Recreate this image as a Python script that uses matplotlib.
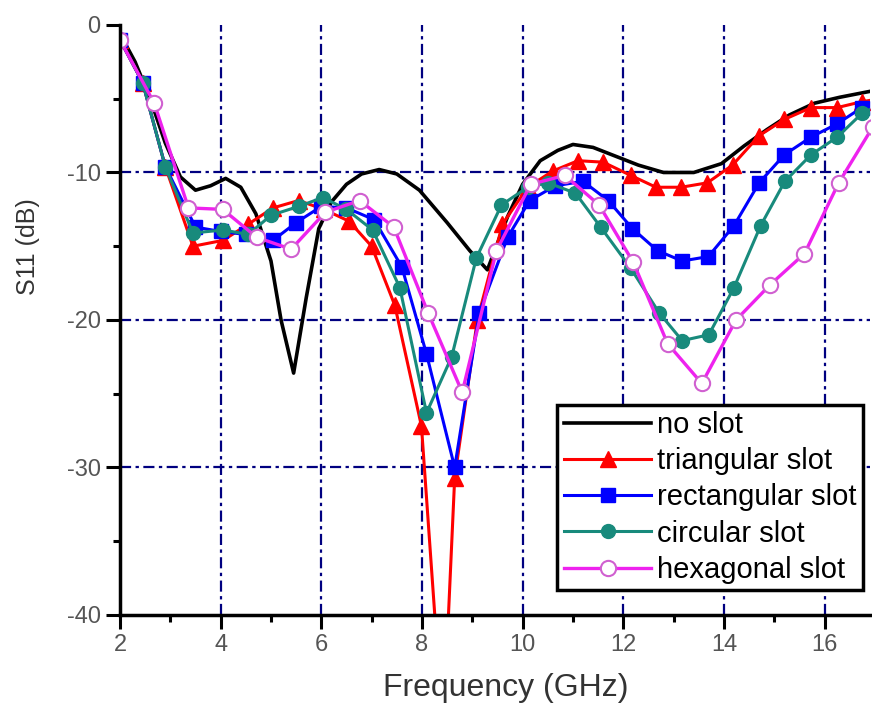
#!/usr/bin/env python3

import matplotlib
matplotlib.use('Agg')
import matplotlib.pyplot as plt

plt.rcParams['font.family'] = ['Liberation Sans', 'DejaVu Sans']
plt.rcParams['axes.unicode_minus'] = False

# no slot (plain line)
f_none = [2.0, 2.3, 2.6, 2.9, 3.2, 3.5, 3.8, 4.1, 4.4, 4.7, 5.0, 5.2, 5.45, 5.7, 5.95,
          6.2, 6.5, 6.8, 7.15, 7.5, 7.95, 8.5, 8.95, 9.3, 9.7, 10.0, 10.35, 10.7, 11.0,
          11.4, 11.85, 12.3, 12.8, 13.4, 13.95, 14.4, 14.85, 15.3, 15.8, 16.3, 16.9]
s_none = [-0.6, -2.5, -5.0, -8.0, -10.3, -11.2, -10.9, -10.4, -11.0, -12.8, -16.0, -20.0, -23.6, -18.5, -13.8,
          -12.0, -10.8, -10.1, -9.8, -10.1, -11.2, -13.4, -15.3, -16.6, -13.0, -10.8, -9.2, -8.5, -8.1,
          -8.3, -8.9, -9.5, -10.0, -10.0, -9.4, -8.2, -7.1, -6.1, -5.3, -4.9, -4.5]

# triangular slot
f_tri = [2.0, 2.45, 2.9, 3.45, 4.05, 4.55, 5.04, 5.55, 6.05, 6.55, 7.0, 7.46, 7.99, 8.42, 8.65,
         9.1, 9.6, 10.1, 10.6, 11.1, 11.6, 12.15, 12.65, 13.15, 13.67, 14.17, 14.7, 15.2, 15.73,
         16.25, 16.74, 17.1]
s_tri = [-1.0, -3.9, -9.6, -15.0, -14.6, -13.5, -12.4, -11.9, -12.5, -13.3, -15.0, -19.0, -27.2, -48.0, -30.7,
         -20.0, -13.5, -11.0, -9.9, -9.2, -9.3, -10.2, -11.0, -11.0, -10.7, -9.5, -7.5, -6.4, -5.6,
         -5.6, -5.2, -5.0]

# rectangular slot
f_rect = [2.0, 2.45, 2.9, 3.5, 4.0, 4.5, 5.04, 5.5, 6.0, 6.5, 7.05, 7.6, 8.09, 8.65, 9.14,
          9.7, 10.14, 10.65, 11.2, 11.7, 12.18, 12.68, 13.17, 13.69, 14.2, 14.7, 15.2, 15.73,
          16.25, 16.74, 17.1]
s_rect = [-1.0, -3.9, -9.6, -13.7, -14.0, -14.2, -14.6, -13.4, -12.3, -12.4, -13.2, -16.4, -22.3, -30.0, -19.5,
          -14.4, -11.9, -10.9, -10.6, -11.9, -13.8, -15.3, -16.0, -15.7, -13.6, -10.7, -8.8, -7.6,
          -6.7, -5.6, -5.2]

# circular slot
f_circ = [2.0, 2.45, 2.9, 3.45, 4.05, 4.55, 5.0, 5.55, 6.03, 6.5, 7.02, 7.56, 8.09, 8.59, 9.08,
          9.58, 10.1, 10.5, 11.05, 11.55, 12.15, 12.71, 13.17, 13.7, 14.2, 14.73, 15.21, 15.73,
          16.25, 16.74, 17.1]
s_circ = [-1.0, -3.9, -9.6, -14.1, -13.9, -14.2, -12.9, -12.3, -11.7, -12.5, -13.9, -17.8, -26.3, -22.5, -15.8,
          -12.2, -11.0, -10.7, -11.4, -13.7, -16.5, -19.5, -21.4, -21.0, -17.8, -13.6, -10.6, -8.8,
          -7.6, -6.0, -5.4]

# hexagonal slot
f_hex = [2.0, 2.68, 3.36, 4.04, 4.72, 5.40, 6.08, 6.76, 7.44, 8.12, 8.80, 9.48, 10.16, 10.84,
         11.52, 12.20, 12.88, 13.56, 14.24, 14.92, 15.60, 16.28, 16.96]
s_hex = [-1.0, -5.3, -12.4, -12.5, -14.4, -15.2, -12.7, -11.9, -13.7, -19.5, -24.9, -15.3, -10.8, -10.2,
         -12.2, -16.1, -21.6, -24.3, -20.0, -17.6, -15.5, -10.7, -6.9]

fig = plt.figure(figsize=(8.72, 7.06), dpi=100)
ax = fig.add_axes([0.1376, 0.1289, 0.86, 0.8357])

ax.plot(f_none, s_none, color='black', lw=2.6, label='no slot')
ax.plot(f_tri, s_tri, color='#ff0000', lw=2.2, marker='^', ms=12, label='triangular slot')
ax.plot(f_rect, s_rect, color='#0000ff', lw=2.2, marker='s', ms=10, label='rectangular slot')
ax.plot(f_circ, s_circ, color='#188a7c', lw=2.2, marker='o', ms=10, label='circular slot')
ax.plot(f_hex, s_hex, color='#ee22ee', lw=2.4, marker='o', ms=11, mfc='white',
        mec='#d060d0', mew=1.5, label='hexagonal slot')

ax.set_xlim(2, 16.9)
ax.set_ylim(-40, 0)
ax.set_xticks([2, 4, 6, 8, 10, 12, 14, 16])
ax.set_xticks([3, 5, 7, 9, 11, 13, 15], minor=True)
ax.set_yticks([0, -10, -20, -30, -40])
ax.set_yticks([-5, -15, -25, -35], minor=True)

for side in ['top', 'right']:
    ax.spines[side].set_visible(False)
for side in ['left', 'bottom']:
    ax.spines[side].set_linewidth(2.5)

ax.tick_params(which='major', direction='out', length=10, width=2.2,
               labelsize=17, labelcolor='#555555', pad=4)
ax.tick_params(which='minor', direction='out', length=5, width=2.2)

ax.grid(True, which='major', color='#000080', lw=1.6, ls=(0, (5, 2, 1.5, 2)))
ax.get_ygridlines()[0].set_visible(False)
ax.get_ygridlines()[-1].set_visible(False)
ax.get_xgridlines()[0].set_visible(False)
ax.set_axisbelow(True)

ax.set_xlabel('Frequency (GHz)', fontsize=23, color='#333333')
ax.set_ylabel('S11 (dB)', fontsize=18, color='#333333')
ax.xaxis.set_label_coords(0.515, -0.124, transform=ax.transAxes)
ax.yaxis.set_label_coords(-0.123, 0.624, transform=ax.transAxes)
ax.xaxis.label.set_va('center')
ax.yaxis.label.set_va('center')

leg = ax.legend(loc='lower right', bbox_to_anchor=(0.991, 0.042), borderaxespad=0,
                fontsize=21, frameon=True, fancybox=False, handlelength=3.0,
                handletextpad=0.2, borderpad=0.22, labelspacing=0.28)
leg.get_frame().set_edgecolor('black')
leg.get_frame().set_linewidth(2.5)
leg.get_frame().set_alpha(1)

fig.savefig('out.png', dpi=100)
